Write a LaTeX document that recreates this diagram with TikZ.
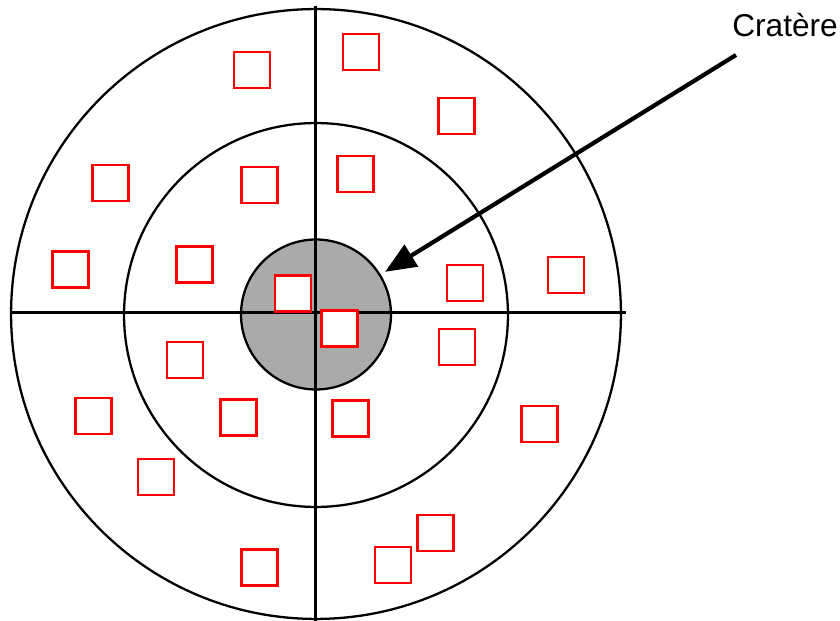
\documentclass[tikz,border=0pt]{standalone}
\usepackage{fontspec}
\setmainfont{Liberation Sans}
\usetikzlibrary{arrows.meta, positioning}
\definecolor{cratergray}{HTML}{AAAAAA}
\definecolor{boxred}{HTML}{FF0000}

\begin{document}
\begin{tikzpicture}[
    x=0.02cm, y=-0.02cm,
    ring/.style={line width=1.3pt, black},
    axis/.style={line width=1.3pt, black},
    crater/.style={circle, draw, line width=1.3pt, fill=cratergray, minimum size=3cm, inner sep=0pt},
    box/.style={draw=boxred, fill=white, line width=1.4pt, minimum size=0.72cm, inner sep=0pt},
    pointer/.style={line width=2.4pt, -{Triangle[length=0.62cm, width=0.5cm]}},
    lbl/.style={font=\fontsize{18}{22}\selectfont, inner sep=0pt, anchor=base west}
]
\useasboundingbox (0,0) rectangle (840,621);
% Rings
\draw[ring] (316,314) circle[radius=6.1cm];
\draw[ring] (316,315) circle[radius=3.84cm];
\node[crater] (crat) at (316,314.5) {};
% Cross
\draw[axis] (10,312.5) -- (626,312.5);
\draw[axis] (315.5,6) -- (315.5,621);
% Samples
\foreach \x/\y [count=\i] in {252/70, 361/52, 456.7/116, 110.7/183, 259.5/185, 355.7/174,
    70.5/269.5, 194.3/264.7, 293/293.3, 339.5/328.3, 465/283, 566.2/275.2,
    185/360.2, 456.8/346.8, 93.3/416, 238.7/417.3, 350.7/418.7, 539.7/424,
    156/477.2, 435.5/532.8, 259.7/567.7, 393.2/565} {
    \node[box] (sq\i) at (\x,\y) {};
}
% Label
\node[lbl] (name) at (732,37) {Cratère};
\coordinate (tail) at (736,55);
\draw[pointer, shorten >=0.1cm] (tail) -- (crat);
\end{tikzpicture}
\end{document}
